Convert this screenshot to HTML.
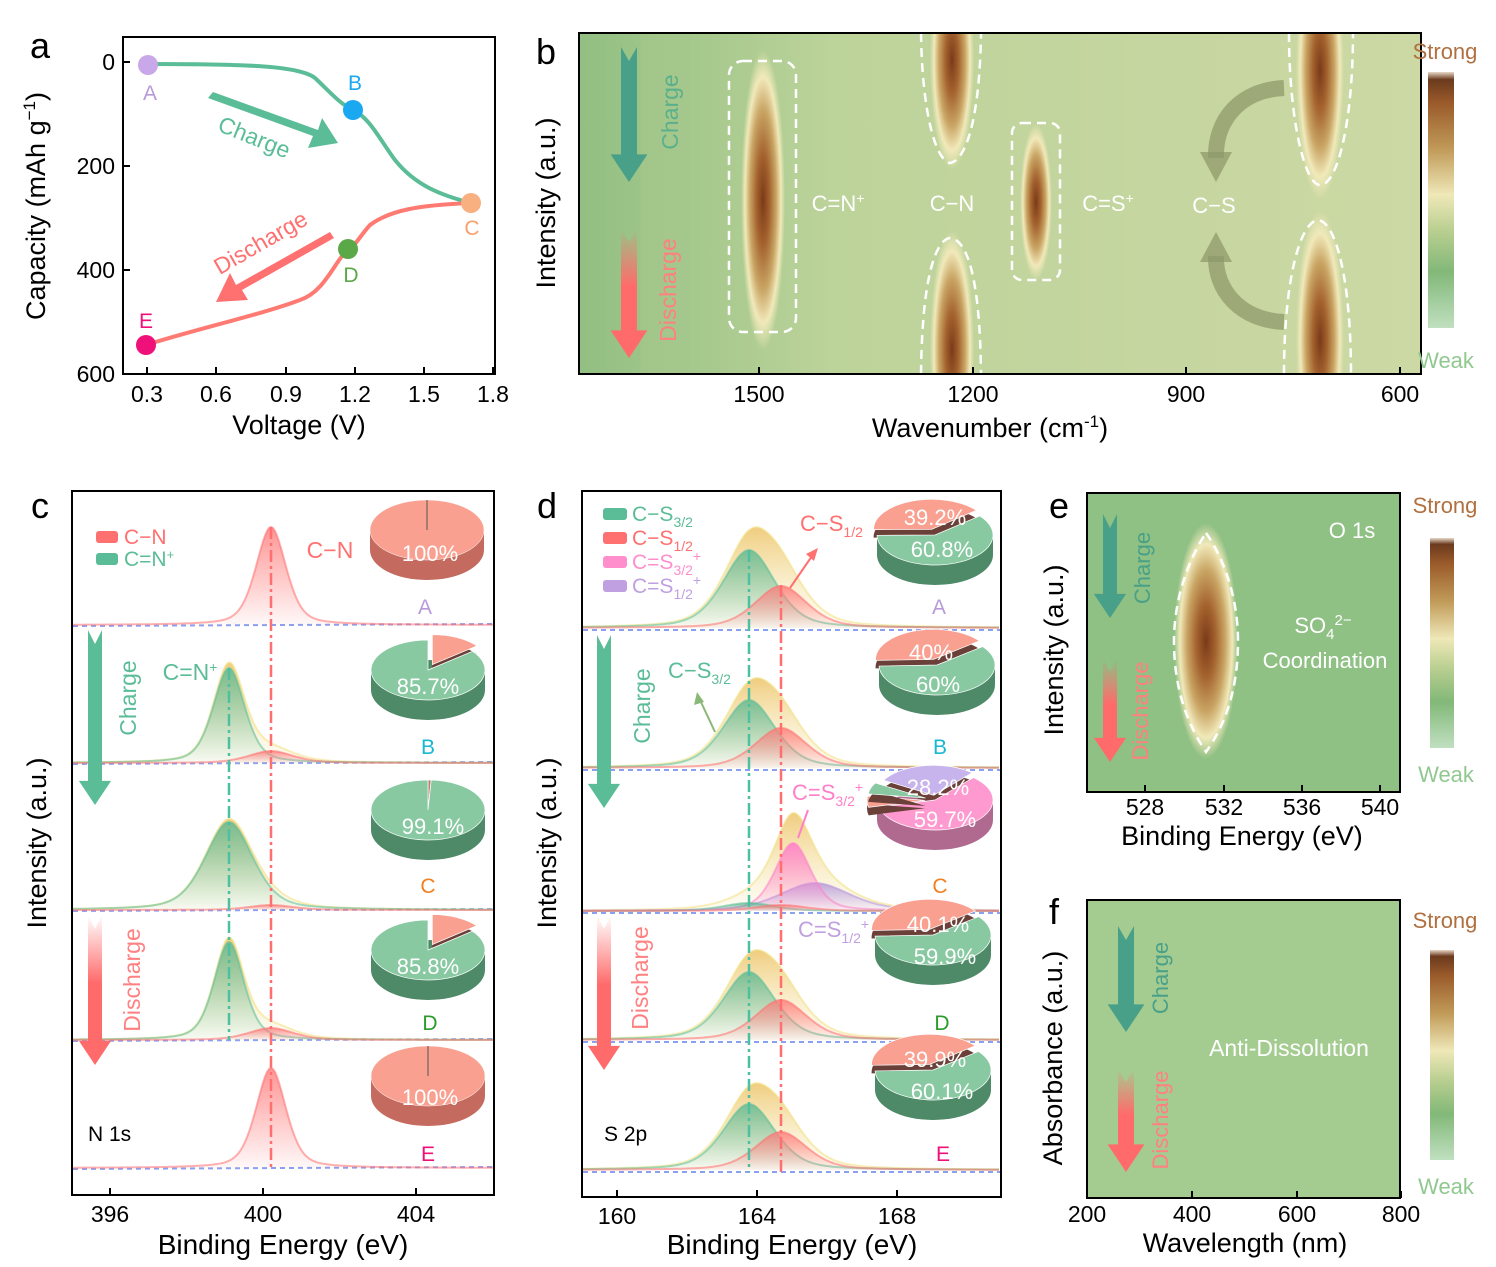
<!DOCTYPE html>
<html><head><meta charset="utf-8"><style>
html,body{margin:0;padding:0;background:#fff}
svg text{font-family:"Liberation Sans",Arial,sans-serif}
</style></head><body>
<svg id="s" xmlns="http://www.w3.org/2000/svg" width="1496" height="1262" viewBox="0 0 1496 1262">
<defs>
<clipPath id="cpb"><rect x="579" y="33" width="842" height="341"/></clipPath>
<clipPath id="cpe"><rect x="1087" y="493" width="313" height="299"/></clipPath>
<linearGradient id="cb" x1="0" y1="0" x2="0" y2="1">
<stop offset="0" stop-color="#e8d8c8"/><stop offset="0.03" stop-color="#6b3a1e"/><stop offset="0.12" stop-color="#9a5a2a"/><stop offset="0.3" stop-color="#c09a58"/><stop offset="0.48" stop-color="#efe8b8"/><stop offset="0.62" stop-color="#b9cf90"/><stop offset="0.78" stop-color="#82b878"/><stop offset="1" stop-color="#c0e0c0"/></linearGradient>
<linearGradient id="bgb" x1="0" y1="0" x2="1" y2="0">
<stop offset="0" stop-color="#92bf82"/><stop offset="0.3" stop-color="#bcd39a"/><stop offset="0.7" stop-color="#c6d6a0"/><stop offset="1" stop-color="#ccd9a4"/></linearGradient>
<radialGradient id="pk"><stop offset="0" stop-color="#7a3a18"/><stop offset="0.3" stop-color="#a4622e"/><stop offset="0.6" stop-color="#c9a564"/><stop offset="0.82" stop-color="#f1e9ba"/><stop offset="1" stop-color="#f1e9ba" stop-opacity="0"/></radialGradient>
<linearGradient id="dis" x1="0" y1="0" x2="0" y2="1"><stop offset="0" stop-color="#ff6b6b" stop-opacity="0"/><stop offset="0.45" stop-color="#ff6b6b" stop-opacity="1"/><stop offset="1" stop-color="#ff6b6b"/></linearGradient>
<linearGradient id="fg" x1="0" y1="0" x2="0" y2="1"><stop offset="0" stop-color="#5cb892" stop-opacity="0.8"/><stop offset="1" stop-color="#5cb892" stop-opacity="0.03"/></linearGradient>
<linearGradient id="fr" x1="0" y1="0" x2="0" y2="1"><stop offset="0" stop-color="#ff7a7a" stop-opacity="0.8"/><stop offset="1" stop-color="#ff7a7a" stop-opacity="0.05"/></linearGradient>
<linearGradient id="fy" x1="0" y1="0" x2="0" y2="1"><stop offset="0" stop-color="#ecc060" stop-opacity="0.8"/><stop offset="1" stop-color="#f5e6a0" stop-opacity="0.1"/></linearGradient>
<linearGradient id="fp" x1="0" y1="0" x2="0" y2="1"><stop offset="0" stop-color="#ff80c8" stop-opacity="0.9"/><stop offset="1" stop-color="#ff80c8" stop-opacity="0.05"/></linearGradient>
<linearGradient id="fv" x1="0" y1="0" x2="0" y2="1"><stop offset="0" stop-color="#b494dc" stop-opacity="0.8"/><stop offset="1" stop-color="#b494dc" stop-opacity="0.05"/></linearGradient>
</defs>
<g id="g"></g>
</svg>
<script>
var o='';
function T(x,y,t,sz,col,anc,extra){o+='<text x="'+x+'" y="'+y+'" font-size="'+sz+'" fill="'+(col||'#000')+'" text-anchor="'+(anc||'middle')+'" '+(extra||'')+'>'+t+'</text>';}
function R(x,y,w,h,extra){o+='<rect x="'+x+'" y="'+y+'" width="'+w+'" height="'+h+'" '+extra+'/>';}
function L(x1,y1,x2,y2,extra){o+='<line x1="'+x1+'" y1="'+y1+'" x2="'+x2+'" y2="'+y2+'" '+extra+'/>';}
function P(d,extra){o+='<path d="'+d+'" '+extra+'/>';}
function arrow(x,y1,y2,col,w){
 var hw=w*1.15;P('M'+(x-w/2)+','+y1+' L'+x+','+(y1+14)+' L'+(x+w/2)+','+y1+' L'+(x+w/2)+','+(y2-hw*1.5)+' L'+(x+hw)+','+(y2-hw*1.5)+' L'+x+','+y2+' L'+(x-hw)+','+(y2-hw*1.5)+' L'+(x-w/2)+','+(y2-hw*1.5)+'Z','fill="'+col+'"');}
function xticks(xs,y,labels,ly){xs.forEach(function(x,i){L(x,y,x,y-7,'stroke="#000" stroke-width="2"');T(x,ly,labels[i],23);});}
function pv(dx,s){return 0.6*Math.exp(-dx*dx/(2*s*s))+0.4/(1+Math.pow(dx/(s*1.18),2));}
function curve(x0,x1,base,comps){var pts=[];for(var x=x0;x<=x1;x+=2){var y=0;comps.forEach(function(c){y+=c[1]*pv(x-c[0],c[2]);});pts.push([x,base-y]);}return pts;}
function spec(x0,x1,base,comps,fill,stroke){var p=curve(x0,x1,base,comps);var d='M'+p.map(function(q){return q[0]+','+q[1].toFixed(1)}).join(' L');P(d+' L'+x1+','+base+' L'+x0+','+base+'Z','fill="url(#'+fill+')" stroke="none"');P(d,'fill="none" stroke="'+stroke+'" stroke-width="2" stroke-opacity="0.55"');}
function pie(cx,cy,rx,ry,dp,slices,side,start){
 R(cx-rx,cy,2*rx,dp,'fill="'+side+'"');o+='<ellipse cx="'+cx+'" cy="'+(cy+dp)+'" rx="'+rx+'" ry="'+ry+'" fill="'+side+'"/>';
 var a=(start===undefined?-90:start)*Math.PI/180;slices.forEach(function(s){var a2=a+s[0]*2*Math.PI;var mid=(a+a2)/2;var ex=s[2]||0;var ox=ex*Math.cos(mid),oy=ex*Math.sin(mid)*0.6;
 if(s[0]>=0.999){o+='<ellipse cx="'+cx+'" cy="'+cy+'" rx="'+rx+'" ry="'+ry+'" fill="'+s[1]+'" stroke="#fff" stroke-width="0.5"/>';L(cx,cy,cx,cy-ry,'stroke="#555" stroke-width="1"');}
 else{var c=cx+ox,d=cy+oy;if(ex){P('M'+c+','+(d+8)+' L'+(c+rx*Math.cos(a))+','+(d+8+ry*Math.sin(a))+' A'+rx+','+ry+' 0 '+(s[0]>0.5?1:0)+' 1 '+(c+rx*Math.cos(a2))+','+(d+8+ry*Math.sin(a2))+'Z','fill="#6a4038"');}
 P('M'+c+','+d+' L'+(c+rx*Math.cos(a))+','+(d+ry*Math.sin(a))+' A'+rx+','+ry+' 0 '+(s[0]>0.5?1:0)+' 1 '+(c+rx*Math.cos(a2))+','+(d+ry*Math.sin(a2))+'Z','fill="'+s[1]+'" stroke="#fff" stroke-width="0.7"');}
 a=a2;});}
var TE='#5bbd97',RE='#ff6f6f',GP='#88c9a2',RP='#f9a090';

// ===== Panel a =====
R(123,37,372,337,'fill="none" stroke="#000" stroke-width="2"');
[[62,'0'],[166,'200'],[270,'400'],[374,'600']].forEach(function(t){L(123,t[0],130,t[0],'stroke="#000" stroke-width="2"');T(115,t[0]+8,t[1],23,'#000','end');});
xticks([147,216,286,355,424,493],374,['0.3','0.6','0.9','1.2','1.5','1.8'],402);
T(299,434,'Voltage (V)',27);
T(45,206,'Capacity (mAh g<tspan dy="-10" font-size="17">−1</tspan><tspan dy="10">)</tspan>',27,'#000','middle','transform="rotate(-90 45 206)"');
T(40,58,'a',36);
P('M148,64 C250,64 300,66 315,78 C330,92 340,104 353,110 C370,118 380,140 395,160 C415,185 440,195 471,203','fill="none" stroke="'+TE+'" stroke-width="4"');
P('M471,203 C420,205 390,210 370,225 C360,236 356,245 348,250 C335,260 325,292 300,300 C260,315 200,328 146,345','fill="none" stroke="#ff7a72" stroke-width="4"');
P('M213,92 L318,130 L322,118 L338,143 L308,148 L313,136 L208,98Z','fill="'+TE+'"');
P('M330,232 L236,285 L230,273 L216,302 L248,300 L242,290 L334,238Z','fill="#ff7070"');
T(254,145,'Charge',23,TE,'middle','transform="rotate(22 254 138)"');
T(262,250,'Discharge',23,'#ff7070','middle','transform="rotate(-30 262 245)"');
[[148,65,'#c8a8e8','A',150,100,'#b89ad8'],[353,110,'#1aa8f0','B',355,90,'#1aa8f0'],[471,203,'#f8b080','C',472,235,'#f8a070'],[348,249,'#5ba848','D',351,282,'#5ba848'],[146,345,'#f0107a','E',146,328,'#f0107a']].forEach(function(p){o+='<circle cx="'+p[0]+'" cy="'+p[1]+'" r="10" fill="'+p[2]+'"/>';T(p[4],p[5],p[3],21,p[6]);});

// ===== Panel b =====
o+='<g clip-path="url(#cpb)">';
R(579,33,842,341,'fill="url(#bgb)"');
R(640,33,40,341,'fill="#a9c98c" opacity="0.4"');
o+='<ellipse cx="763" cy="200" rx="22" ry="150" fill="url(#pk)"/>';
o+='<ellipse cx="952" cy="60" rx="22" ry="110" fill="url(#pk)"/>';
o+='<ellipse cx="952" cy="350" rx="22" ry="120" fill="url(#pk)"/>';
o+='<ellipse cx="1036" cy="202" rx="16" ry="78" fill="url(#pk)"/>';
o+='<ellipse cx="1320" cy="70" rx="24" ry="130" fill="url(#pk)"/>';
o+='<ellipse cx="1320" cy="340" rx="24" ry="130" fill="url(#pk)"/>';
var DW='fill="none" stroke="#fff" stroke-width="2.5" stroke-dasharray="9,6"';
R(729,61,67,271,'rx="14" '+DW);R(1012,123,48,157,'rx="10" '+DW);
P('M921,33 C922,110 935,160 950,163 C968,160 980,110 981,33',DW);
P('M921,374 C922,280 935,240 950,238 C968,240 980,280 981,374',DW);
P('M1289,33 C1289,120 1305,185 1320,185 C1338,185 1353,120 1353,33',DW);
P('M1284,374 C1284,280 1300,222 1318,220 C1336,222 1351,280 1351,374',DW);
P('M1284,88 C1240,90 1215,120 1216,158','fill="none" stroke="#8f9a6a" stroke-width="16" opacity="0.75"');
P('M1200,152 L1232,152 L1216,182Z','fill="#8f9a6a" opacity="0.75"');
P('M1284,322 C1240,320 1215,290 1216,256','fill="none" stroke="#8f9a6a" stroke-width="16" opacity="0.75"');
P('M1200,262 L1232,262 L1216,232Z','fill="#8f9a6a" opacity="0.75"');
o+='</g>';
R(579,33,842,341,'fill="none" stroke="#000" stroke-width="2"');
arrow(629,47,182,'#48a088',16);arrow(629,228,358,'url(#dis)',16);
T(678,112,'Charge',23,'#5bb08c','middle','transform="rotate(-90 678 112)"');
T(676,290,'Discharge',23,'#ff8080','middle','transform="rotate(-90 676 290)"');
T(838,211,'C=N<tspan dy="-8" font-size="14">+</tspan>',22,'#fff');T(952,211,'C−N',22,'#fff');
T(1108,211,'C=S<tspan dy="-8" font-size="14">+</tspan>',22,'#fff');T(1214,213,'C−S',22,'#fff');
xticks([759,973,1186,1400],374,['1500','1200','900','600'],402);
T(990,437,'Wavenumber (cm<tspan dy="-10" font-size="17">-1</tspan><tspan dy="10">)</tspan>',27);
T(555,203,'Intensity (a.u.)',27,'#000','middle','transform="rotate(-90 555 203)"');
T(546,64,'b',36);
R(1428,72,26,256,'fill="url(#cb)"');T(1445,59,'Strong',22,'#b07040');T(1446,368,'Weak',22,'#90c890');

// ===== Panel c =====
R(72,491,422,704,'fill="none" stroke="#000" stroke-width="2"');
T(40,518,'c',36);
var cb=[625,763,910,1040,1168];
cb.forEach(function(b){L(73,b+1,493,b-1,'stroke="#8aa0f0" stroke-width="2" stroke-dasharray="5,4"');});
var cN=271,cP=229,cw=15;
spec(73,493,625,[[cN,98,cw]],'fr',RE);
spec(73,493,763,[[cP,98,cw*1.05],[cN,12,cw*1.5]],'fy','#f0e080');spec(73,493,763,[[cP,95,cw*1.05]],'fg',TE);spec(73,493,763,[[cN,12,cw*1.5]],'fr',RE);
spec(73,493,910,[[cP,90,cw*1.6],[cN,5,cw*1.5]],'fy','#f0e080');spec(73,493,910,[[cP,88,cw*1.6]],'fg',TE);spec(73,493,910,[[cN,5,cw*1.5]],'fr',RE);
spec(73,493,1040,[[cP,100,cw],[cN,12,cw*1.5]],'fy','#f0e080');spec(73,493,1040,[[cP,98,cw]],'fg',TE);spec(73,493,1040,[[cN,12,cw*1.5]],'fr',RE);
spec(73,493,1168,[[cN,100,cw]],'fr',RE);
L(cN,527,cN,1168,'stroke="#ff6f6f" stroke-width="2.5" stroke-dasharray="12,4,3,4"');
L(cP,668,cP,1040,'stroke="#4cc0a0" stroke-width="2.5" stroke-dasharray="12,4,3,4"');
R(96,531,22,12,'rx="3" fill="#ff7070"');T(124,544,'C−N',21,'#ff7070','start');
R(96,553,22,12,'rx="3" fill="#5bbd97"');T(124,566,'C=N<tspan dy="-7" font-size="13">+</tspan>',21,'#5bbd97','start');
T(330,558,'C−N',23,'#ff7070');T(190,680,'C=N<tspan dy="-8" font-size="14">+</tspan>',23,'#5bbd97');
arrow(95,630,805,'#5bbd97',14);arrow(95,915,1065,'url(#dis)',14);
T(136,698,'Charge',23,'#5bbd97','middle','transform="rotate(-90 136 698)"');
T(140,980,'Discharge',23,'#ff8080','middle','transform="rotate(-90 140 980)"');
pie(427,530,57,30,20,[[1,RP]],'#c46a5e');T(430,561,'100%',22,'#fff');
pie(428,670,57,30,20,[[0.143,RP,10],[0.857,GP]],'#4e8a68');T(428,694,'85.7%',22,'#fff');
pie(428,810,57,30,20,[[0.009,'#c08070'],[0.991,GP]],'#4e8a68');T(433,834,'99.1%',22,'#fff');
pie(428,950,57,30,20,[[0.142,RP,10],[0.858,GP]],'#4e8a68');T(428,974,'85.8%',22,'#fff');
pie(428,1076,57,30,20,[[1,RP]],'#c46a5e');T(430,1105,'100%',22,'#fff');
T(425,614,'A',21,'#b89ad8');T(428,754,'B',21,'#18b8d0');T(428,893,'C',21,'#f08020');T(430,1030,'D',21,'#2a9a2a');T(428,1161,'E',21,'#f0107a');
T(88,1141,'N 1s',21,'#000','start');
xticks([110,263,416],1195,['396','400','404'],1222);
T(283,1254,'Binding Energy (eV)',28);
T(46,843,'Intensity (a.u.)',27,'#000','middle','transform="rotate(-90 46 843)"');

// ===== Panel d =====
R(582,491,419,706,'fill="none" stroke="#000" stroke-width="2"');
T(547,518,'d',36);
var G=749,Rd=781,sw=26;
[628,768,911,1040,1170].forEach(function(b){L(583,b+2,1000,b+2,'stroke="#8aa0f0" stroke-width="2" stroke-dasharray="5,4"');});
function trio(b,hg,hr){spec(583,1000,b,[[G,hg,sw],[Rd,hr,sw]],'fy','#f0e080');spec(583,1000,b,[[G,hg,sw]],'fg',TE);spec(583,1000,b,[[Rd,hr,sw]],'fr',RE);}
trio(628,78,42);trio(768,68,40);trio(1040,68,40);trio(1170,66,38);
spec(583,1000,911,[[G,8,sw],[Rd,6,sw],[793,68,18],[815,28,35]],'fy','#f0e080');
spec(583,1000,911,[[815,28,35]],'fv','#b494dc');spec(583,1000,911,[[793,68,18]],'fp','#ff80c8');spec(583,1000,911,[[G,8,sw]],'fg',TE);spec(583,1000,911,[[Rd,6,sw]],'fr',RE);
L(G,550,G,1172,'stroke="#4cc0a0" stroke-width="2.5" stroke-dasharray="12,4,3,4"');
L(Rd,585,Rd,1172,'stroke="#ff6f6f" stroke-width="2.5" stroke-dasharray="12,4,3,4"');
var lg=[['#5bbd97','C−S<tspan font-size="14" dy="6">3/2</tspan>'],['#ff7070','C−S<tspan font-size="14" dy="6">1/2</tspan>'],['#ff8fcc','C=S<tspan font-size="14" dy="6">3/2</tspan><tspan font-size="14" dy="-14">+</tspan>'],['#c0a0e0','C=S<tspan font-size="14" dy="6">1/2</tspan><tspan font-size="14" dy="-14">+</tspan>']];
lg.forEach(function(l,i){var y=513+i*24;R(603,y-5,24,12,'rx="3" fill="'+l[0]+'"');T(632,y+8,l[1],21,l[0],'start');});
T(800,531,'C−S<tspan font-size="14" dy="6">1/2</tspan>',22,'#ff7070','start');
P('M790,588 L812,556','stroke="#ff7070" stroke-width="2" fill="none"');P('M818,548 L806,554 L814,561Z','fill="#ff7070"');
T(668,678,'C−S<tspan font-size="14" dy="6">3/2</tspan>',22,'#5bbd97','start');
P('M715,732 L700,700','stroke="#8ab878" stroke-width="2" fill="none"');P('M697,692 L694,705 L704,702Z','fill="#8ab878"');
T(792,800,'C=S<tspan font-size="14" dy="6">3/2</tspan><tspan font-size="14" dy="-14">+</tspan>',22,'#ff80c8','start');
P('M798,838 L808,810','stroke="#ff80c8" stroke-width="2" fill="none"');
T(798,937,'C=S<tspan font-size="14" dy="6">1/2</tspan><tspan font-size="14" dy="-14">+</tspan>',22,'#c0a0e0','start');
arrow(604,635,808,'#5bbd97',14);arrow(604,915,1070,'url(#dis)',14);
T(650,706,'Charge',23,'#5bbd97','middle','transform="rotate(-90 650 706)"');
T(648,978,'Discharge',23,'#ff8080','middle','transform="rotate(-90 648 978)"');
function pieTop(cx,cy,tg,bg){T(cx-2,cy-8,tg,22,'#fff');T(cx+5,cy+24,bg,22,'#fff');}
pie(935,535,58,30,20,[[0.392,RP,10],[0.608,GP]],'#4e8a68',-90-0.392*180-20);pieTop(937,533,'39.2%','60.8%');
pie(937,665,58,30,20,[[0.4,RP,10],[0.6,GP]],'#4e8a68',-90-0.4*180-20);pieTop(933,668,'40%','60%');
pie(935,800,58,30,20,[[0.282,'#c8b4ec',8],[0.597,'#ff9ad0'],[0.06,RP,10],[0.061,GP,10]],'#b06a90',-150);pieTop(940,803,'28.2%','59.7%');
pie(933,935,58,30,20,[[0.401,RP,10],[0.599,GP]],'#4e8a68',-90-0.401*180-20);pieTop(940,940,'40.1%','59.9%');
pie(933,1070,58,30,20,[[0.399,RP,10],[0.601,GP]],'#4e8a68',-90-0.399*180-20);pieTop(937,1075,'39.9%','60.1%');
T(939,614,'A',21,'#b89ad8');T(940,754,'B',21,'#18b8d0');T(940,893,'C',21,'#f08020');T(942,1030,'D',21,'#2a9a2a');T(943,1161,'E',21,'#f0107a');
T(604,1141,'S 2p',21,'#000','start');
xticks([617,757,897],1197,['160','164','168'],1224);
T(792,1254,'Binding Energy (eV)',28);
T(556,843,'Intensity (a.u.)',27,'#000','middle','transform="rotate(-90 556 843)"');

// ===== Panel e =====
o+='<g clip-path="url(#cpe)">';
R(1087,493,313,299,'fill="#8fc084"');
o+='<ellipse cx="1206" cy="641" rx="32" ry="118" fill="url(#pk)"/>';
P('M1206,533 C1225,560 1238,600 1238,641 C1238,690 1225,725 1206,752 C1188,725 1174,690 1174,641 C1174,600 1188,560 1206,533Z',DW);
o+='</g>';
R(1087,493,313,299,'fill="none" stroke="#000" stroke-width="2"');
arrow(1110,514,618,'#48a088',14);arrow(1110,658,762,'url(#dis)',14);
T(1150,568,'Charge',22,'#48a088','middle','transform="rotate(-90 1150 568)"');
T(1148,711,'Discharge',22,'#ff8080','middle','transform="rotate(-90 1148 711)"');
T(1352,538,'O 1s',22,'#fff');T(1323,633,'SO<tspan font-size="15" dy="6">4</tspan><tspan font-size="15" dy="-14">2−</tspan>',22,'#fff');T(1325,668,'Coordination',22,'#fff');
xticks([1145,1224,1302,1380],792,['528','532','536','540'],815);
T(1242,845,'Binding Energy (eV)',27);
T(1063,650,'Intensity (a.u.)',27,'#000','middle','transform="rotate(-90 1063 650)"');
T(1059,518,'e',36);
R(1430,538,24,210,'fill="url(#cb)"');T(1445,513,'Strong',22,'#b07040');T(1446,782,'Weak',22,'#90c890');

// ===== Panel f =====
R(1087,900,313,298,'fill="#a5cc90" stroke="#000" stroke-width="2"');
arrow(1126,926,1032,'#48a088',16);arrow(1126,1068,1172,'url(#dis)',16);
T(1168,978,'Charge',22,'#48a088','middle','transform="rotate(-90 1168 978)"');
T(1168,1120,'Discharge',22,'#ff8080','middle','transform="rotate(-90 1168 1120)"');
T(1289,1056,'Anti-Dissolution',23,'#fff');
xticks([1087,1192,1297,1401],1198,['200','400','600','800'],1222);
T(1245,1252,'Wavelength (nm)',27);
T(1062,1058,'Absorbance (a.u.)',27,'#000','middle','transform="rotate(-90 1062 1058)"');
T(1054,924,'f',36);
R(1430,950,24,210,'fill="url(#cb)"');T(1445,928,'Strong',22,'#b07040');T(1446,1194,'Weak',22,'#90c890');
document.getElementById('g').innerHTML=o;
</script>
</body></html>
